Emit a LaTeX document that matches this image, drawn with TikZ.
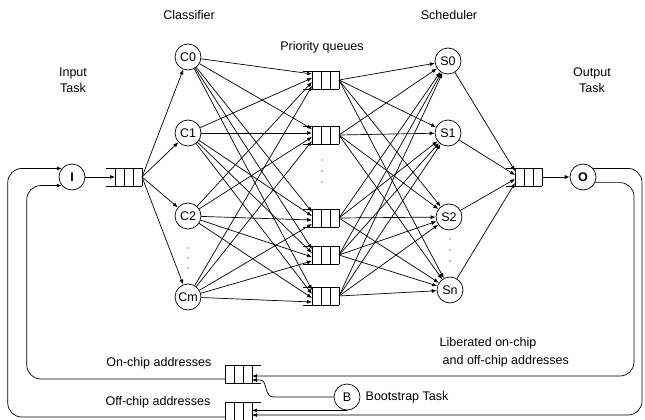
\documentclass[tikz,border=0pt]{standalone}
\usepackage{fontspec}
\setmainfont{Liberation Sans}
\usetikzlibrary{arrows.meta, calc}

\tikzset{
  queue/.pic={
    \draw (-18,-9) -- (18,-9) (-18,9) -- (18,9);
    \foreach \x in {-9,0,9,18} \draw (\x,-9) -- (\x,9);
    \coordinate (-in) at (-9,0);
    \coordinate (-out) at (18,0);
  }
}

\begin{document}
\begin{tikzpicture}[
    x=1pt, y=-1pt, line width=0.7pt,
    font=\fontsize{12.5}{16}\selectfont,
    proc/.style={draw, circle, minimum size=26pt, inner sep=0pt},
    link/.style={-{Latex[length=5pt, width=4pt]}},
    loop/.style={link, rounded corners=14pt},
    lbl/.style={align=center}
]
    \useasboundingbox (0,0) rectangle (645,420);

    % input side
    \node[proc, font=\fontsize{12.5}{16}\selectfont\bfseries] (I) at (72,177) {I};
    \pic (iq) at (124,177) {queue};
    \node[proc] (c0) at (188,57) {C0};
    \node[proc] (c1) at (188,133) {C1};
    \node[proc] (c2) at (188,216) {C2};
    \node[proc] (cm) at (188,297) {Cm};

    % priority queues
    \foreach \n/\y in {1/80, 2/135, 3/218, 4/255, 5/296}
        \pic (pq\n) at (321,\y) {queue};

    % output side
    \node[proc] (s0) at (448,61) {S0};
    \node[proc] (s1) at (448,133) {S1};
    \node[proc] (s2) at (449,217) {S2};
    \node[proc] (sn) at (450,290) {Sn};
    \pic (oq) at (524,177) {queue};
    \node[proc, font=\fontsize{12.5}{16}\selectfont\bfseries] (O) at (583,177) {O};

    % address pools
    \pic[xscale=-1] (onq) at (243,374) {queue};
    \pic[xscale=-1] (offq) at (243,411) {queue};
    \node[proc] (B) at (347,397) {B};

    \draw[link] (I) -- (iq-in);
    \foreach \c/\o in {c0/-6, c1/-2, c2/2, cm/6} {
        \draw[link] (iq-out) -- (\c);
        \foreach \n in {1,...,5} \draw[link] (\c) -- ($(pq\n-in)+(0,\o)$);
    }
    \foreach \s/\o in {s0/-6, s1/-2, s2/2, sn/6} {
        \foreach \n in {1,...,5} \draw[link] (pq\n-out) -- (\s);
        \draw[link] (\s) -- ($(oq-in)+(0,\o)$);
    }
    \draw[link] (oq-out) -- (O);

    % feedback loops
    \coordinate (outerR) at (642,415);
    \coordinate (innerR) at (634,376);
    \draw[loop] (O.40) -| (outerR) -- (outerR -| offq-in);
    \draw[loop] (O.-25) -| (innerR) -- (innerR -| onq-in);
    \draw[link] (B.south) -- (B.south -| offq-in);
    \draw[link] (B.west) -- ++(-60,0) .. controls +(-10,0) and +(8,0) .. ($(onq-in)+(8,6)$) -- ($(onq-in)+(0,6)$);
    \draw[loop] ($(offq-out)+(0,6)$) -| ($(I.140)+(-54,0)$) -- (I.140);
    \draw[loop] ($(onq-out)+(0,5)$) -| ($(I.-140)+(-35,0)$) -- (I.-140);

    % dots
    \foreach \y in {248,258,268} \fill (188,\y) circle (0.7pt);
    \foreach \y in {160,171,182} \fill (322,\y) circle (0.7pt);
    \foreach \y in {239,250,261} \fill (450,\y) circle (0.7pt);

    % labels
    \node[lbl] (inlbl) at (73,80) {Input\\Task};
    \node[lbl] (outlbl) at (592,80) {Output\\Task};
    \node[lbl] (clbl) at (189,15) {Classifier};
    \node[lbl] (plbl) at (322,47) {Priority queues};
    \node[lbl] (slbl) at (449,15) {Scheduler};
    \node[anchor=east] (onlbl) at (215,363) {On-chip addresses};
    \node[anchor=east] (offlbl) at (214,402) {Off-chip addresses};
    \node[anchor=west] (blbl) at (362,397) {Bootstrap Task};
    \node[align=left, anchor=west] (liblbl) at (436,352) {Liberated on-chip\\[2pt]\hspace{3pt}and off-chip addresses};
\end{tikzpicture}
\end{document}
